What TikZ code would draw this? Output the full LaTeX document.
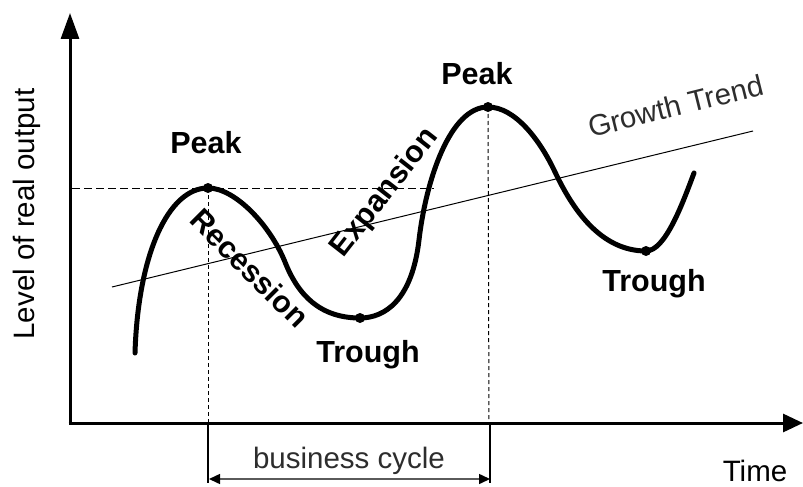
\documentclass[tikz,border=0pt]{standalone}
\usepackage{fontspec}
\setmainfont{Liberation Sans}
\usetikzlibrary{arrows.meta}
\definecolor{txtgray}{RGB}{45,45,45}
\definecolor{arrgray}{RGB}{90,90,90}
\tikzset{
  bigfont/.style={font=\fontsize{30.5}{36}\selectfont\bfseries, inner sep=0pt},
  regfont/.style={font=\fontsize{29.5}{34}\selectfont, inner sep=0pt},
  dot/.style={circle, fill=black, inner sep=0pt, minimum size=10pt},
  curveline/.style={line width=5pt, line cap=round},
  guide/.style={line width=1pt, dash pattern=on 8pt off 4pt},
  vguide/.style={line width=1pt, dash pattern=on 4pt off 3pt},
}
\begin{document}
\begin{tikzpicture}[x=1pt,y=-1pt]
\useasboundingbox (0,0) rectangle (803,487);
% axes
\coordinate (o) at (70,423);
\coordinate (ytip) at (70,13);
\coordinate (xtip) at (803,423);
\draw[line width=3pt, -{Triangle[length=26pt,width=18pt]}] (o) -- (ytip);
\draw[line width=3pt, -{Triangle[length=20pt,width=18pt]}] ([xshift=-1.5pt]o) -- (xtip);
% growth trend
\coordinate (g1) at (112,287);
\coordinate (g2) at (753,131);
\draw[line width=1pt] (g1) -- (g2);
% points
\coordinate (start) at (135,353);
\coordinate (pk1c) at (208,188);
\coordinate (inf1) at (285,262);
\coordinate (tr1c) at (360,318);
\coordinate (inf2) at (419,240);
\coordinate (pk2c) at (488,107);
\coordinate (inf3) at (555,172);
\coordinate (tr2c) at (646,251);
\coordinate (fin) at (694,173);
% curve
\draw[curveline] (start)
  .. controls (138,255) and (168,188) .. (pk1c)
  .. controls (235,188) and (270,225) .. (inf1)
  .. controls (298,295) and (320,318) .. (tr1c)
  .. controls (385,318) and (412,300) .. (inf2)
  .. controls (426,180) and (450,107) .. (pk2c)
  .. controls (515,107) and (540,140) .. (inf3)
  .. controls (572,208) and (600,251) .. (tr2c)
  .. controls (665,251) and (682,205) .. (fin);
\node[dot] (pk1) at (pk1c) {};
\node[dot] (pk2) at (pk2c) {};
\node[dot] (tr1) at (tr1c) {};
\node[dot] (tr2) at (tr2c) {};
% guides
\coordinate (hl) at (72,188);
\coordinate (hr) at (434,188);
\draw[guide] (hl) -- (hr);
\coordinate (v1b) at (208,423);
\coordinate (v2b) at (489,423);
\draw[vguide] (pk1.center) -- (v1b);
\draw[vguide] (pk2.center) -- (v2b);
% business cycle bracket
\coordinate (b1) at (208,483);
\coordinate (b2) at (490,483);
\draw[line width=1.5pt] (v1b) -- (b1);
\draw[line width=1.5pt] ([xshift=1pt]v2b) -- (b2);
\coordinate (a1) at (209,479);
\coordinate (a2) at (490,479);
\draw[line width=1.5pt, arrgray, {Triangle[length=11pt,width=10pt,fill=black,color=black]}-{Triangle[length=11pt,width=10pt,fill=black,color=black]}] (a1) -- (a2);
% labels
\node[bigfont] (lpk1) at (206,143) {Peak};
\node[bigfont] (lpk2) at (477,74) {Peak};
\node[bigfont] (ltr1) at (368,355) {Trough};
\node[bigfont] (ltr2) at (654,284) {Trough};
\node[bigfont, rotate=-45] (lrec) at (250,268) {Recession};
\node[bigfont, rotate=52] (lexp) at (385,193) {Expansion};
\node[regfont, txtgray, rotate=14, anchor=base] (lgt) at (678,116) {Growth Trend};
\node[regfont, txtgray] (lbc) at (349,461) {business cycle};
\node[regfont] (ltime) at (755,471) {Time};
\node[regfont, rotate=90] (lyl) at (27,214) {Level of real output};
\end{tikzpicture}
\end{document}
